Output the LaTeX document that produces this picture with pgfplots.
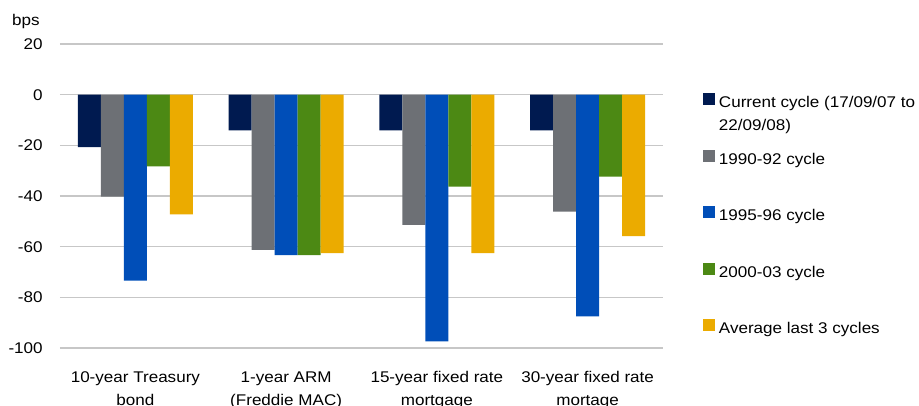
\documentclass[border=0pt]{standalone}
\usepackage{fontspec}
\setmainfont[FakeStretch=1.1]{Liberation Sans}
\usepackage{pgfplots}
\pgfplotsset{compat=1.18}
\definecolor{cNavy}{HTML}{001A50}
\definecolor{cGray}{HTML}{6D7075}
\definecolor{cBlue}{HTML}{004EB8}
\definecolor{cGreen}{HTML}{4C8914}
\definecolor{cGold}{HTML}{EBAB00}
\begin{document}
\fontsize{15.5}{23}\selectfont
\begin{tikzpicture}
\useasboundingbox (-60pt,-57pt) rectangle (859pt,348pt);
\begin{axis}[
  at={(0pt,0pt)}, anchor=south west,
  scale only axis, width=603pt, height=304pt,
  ybar=0pt, bar width=23pt,
  xmin=-0.5, xmax=3.5, ymin=-100, ymax=20,
  ytick={-100,-80,-60,-40,-20,0,20},
  xtick={0,1,2,3},
  xticklabels={{10-year Treasury\\bond},{1-year ARM\\(Freddie MAC)},{15-year fixed rate\\mortgage},{30-year fixed rate\\mortage}},
  xticklabel style={align=center, yshift=-14pt},
  ymajorgrids, major grid style={draw=black!22, line width=1.3pt},
  axis line style={draw=none}, tick style={draw=none},
  /pgf/number format/assume math mode=true,
  yticklabel style={xshift=-12pt},
  legend cell align=left,
  legend image code/.code={\fill[#1,draw=none] (0pt,-1pt) rectangle (12pt,11pt);},
  legend style={at={(1.066,0.839)}, anchor=north west, draw=none, fill=none,
    inner sep=0pt, row sep=38pt, column sep=4pt,
    nodes={inner sep=0pt, text height=11pt, text depth=4pt}},
]
\addplot[fill=cNavy, draw=none] coordinates {(0,-20.7) (1,-14.1) (2,-14.1) (3,-14.1)};
\addplot[fill=cGray, draw=none] coordinates {(0,-40.2) (1,-61.3) (2,-51.4) (3,-46.2)};
\addplot[fill=cBlue, draw=none] coordinates {(0,-73.4) (1,-63.3) (2,-97.4) (3,-87.5)};
\addplot[fill=cGreen, draw=none] coordinates {(0,-28.3) (1,-63.3) (2,-36.3) (3,-32.4)};
\addplot[fill=cGold, draw=none] coordinates {(0,-47.3) (1,-62.5) (2,-62.5) (3,-55.8)};
\legend{{\parbox[t]{200pt}{Current cycle (17/09/07 to\\22/09/08)}},{1990-92 cycle},{1995-96 cycle},{2000-03 cycle},{Average last 3 cycles}}
\end{axis}
\node[anchor=base west, inner sep=0pt] at (-48pt,322pt) {bps};
\end{tikzpicture}
\end{document}
